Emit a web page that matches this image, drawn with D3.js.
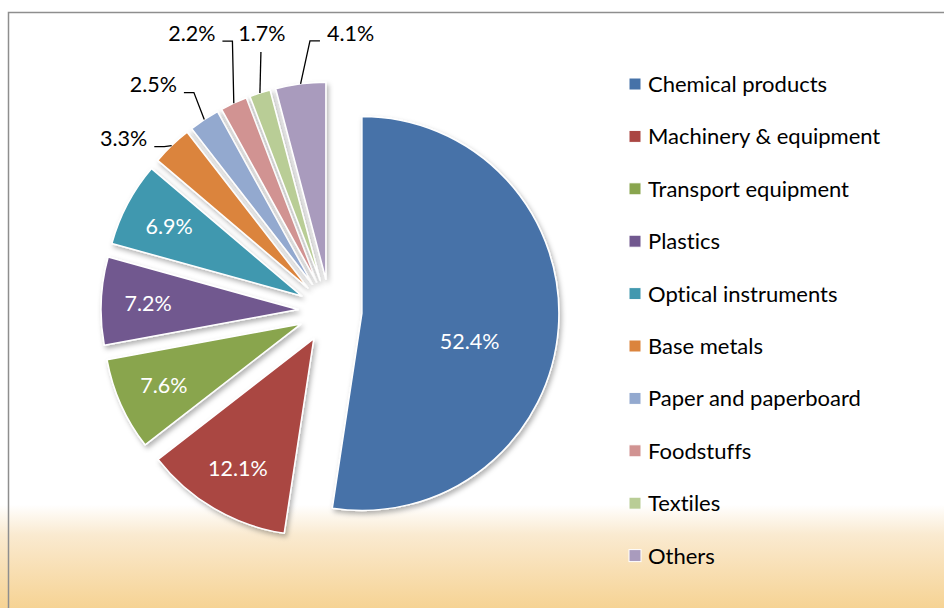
<!DOCTYPE html>
<html>
<head>
<meta charset="utf-8">
<script src="https://cdn.jsdelivr.net/npm/d3@7"></script>
<style>
  html, body { margin: 0; padding: 0; background: #fff; }
  svg { display: block; }
  text { font-family: Lato, "Open Sans", sans-serif; font-variant-ligatures: none; font-feature-settings: "liga" 0; }
</style>
</head>
<body>
<svg id="chart" width="944" height="608"></svg>
<script>
// trade shares by product group, in percent, clockwise from 12 o'clock
const categories = [
  "Chemical products", "Machinery & equipment", "Transport equipment", "Plastics",
  "Optical instruments", "Base metals", "Paper and paperboard", "Foodstuffs",
  "Textiles", "Others"
];
const shares = [52.4, 12.1, 7.6, 7.2, 6.9, 3.3, 2.5, 2.2, 1.7, 4.1];
const sliceColors = [
  "#4672a8", "#aa4643", "#89a54e", "#71588f", "#4198af",
  "#db843d", "#93a9cf", "#d19392", "#b9cd96", "#a99bbd"
];

(function () {
  "use strict";

  const width = 944;
  const height = 608;
  const cx = 330;
  const cy = 311;
  const radius = 197;
  const explode = 32;
  const svg = d3.select("#chart");

  // page background: white, fading into warm sand at the bottom
  const defs = svg.append("defs");
  const bg = defs.append("linearGradient")
    .attr("id", "bgFade")
    .attr("x1", 0).attr("y1", 0).attr("x2", 0).attr("y2", 1);
  bg.append("stop").attr("offset", "0%").attr("stop-color", "#ffffff");
  bg.append("stop").attr("offset", "83%").attr("stop-color", "#ffffff");
  bg.append("stop").attr("offset", "88%").attr("stop-color", "#faead0");
  bg.append("stop").attr("offset", "100%").attr("stop-color", "#f6d394");

  const shadow = defs.append("filter")
    .attr("id", "sliceShadow")
    .attr("x", "-20%").attr("y", "-20%").attr("width", "140%").attr("height", "140%");
  shadow.append("feDropShadow")
    .attr("dx", 2).attr("dy", 3)
    .attr("stdDeviation", 2.5)
    .attr("flood-color", "#000")
    .attr("flood-opacity", 0.3);

  svg.append("rect")
    .attr("width", width).attr("height", height)
    .attr("fill", "url(#bgFade)");

  // chart frame (left and top edges only are inside the picture)
  svg.append("path")
    .attr("d", `M8.5,${height} V12.5 H${width}`)
    .attr("fill", "none")
    .attr("stroke", "#8e8e8e")
    .attr("stroke-width", 1.5);

  const color = d3.scaleOrdinal().domain(categories).range(sliceColors);
  const pie = d3.pie().sort(null).value((d) => d.value);
  const arcs = pie(categories.map((name, i) => ({ name, value: shares[i] })));
  const arc = d3.arc().innerRadius(0).outerRadius(radius);

  const unit = (a) => [Math.sin(a), -Math.cos(a)];
  const mid = (d) => (d.startAngle + d.endAngle) / 2;
  const fmt = (v) => v.toFixed(1) + "%";

  const g = svg.append("g").attr("transform", `translate(${cx},${cy})`);

  g.selectAll("path.slice")
    .data(arcs)
    .join("path")
    .attr("class", "slice")
    .attr("transform", (d) => {
      const [ux, uy] = unit(mid(d));
      return `translate(${ux * explode},${uy * explode})`;
    })
    .attr("d", arc)
    .attr("fill", (d) => color(d.data.name))
    .attr("stroke", "#ffffff")
    .attr("stroke-width", 1.5)
    .attr("stroke-linejoin", "round")
    .style("filter", "url(#sliceShadow)");

  // labels: white inside the larger slices, black with leaders outside the small ones
  const inside = arcs.filter((d) => d.data.value >= 5);
  const outside = arcs.filter((d) => d.data.value < 5);

  g.selectAll("text.inLabel")
    .data(inside)
    .join("text")
    .attr("class", "inLabel")
    .attr("transform", (d) => {
      // the half-pie slice gets its label nearer the apex, turned a little down
      const big = d.data.value > 50;
      const a = mid(d) + (big ? (8 * Math.PI) / 180 : 0);
      const r = explode + (big ? 111 : 150);
      const [ux, uy] = unit(a);
      return `translate(${ux * r},${uy * r})`;
    })
    .attr("text-anchor", "middle")
    .attr("dy", "0.36em")
    .attr("fill", "#ffffff")
    .attr("font-size", 21.5)
    .text((d) => fmt(d.data.value));

  // hand-placed label offsets from each slice's rim point (Excel moved these apart)
  const labelNudge = {
    "Base metals": [-48, -7],
    "Paper and paperboard": [-51, -35],
    "Foodstuffs": [-42, -70],
    "Textiles": [2, -60],
    "Others": [50, -51]
  };

  outside.forEach((d) => {
    const [ux, uy] = unit(mid(d));
    const rim = [ux * (explode + radius), uy * (explode + radius)];
    const [nx, ny] = labelNudge[d.data.name];
    const lx = rim[0] + nx;
    const ly = rim[1] + ny;

    const t = g.append("text")
      .attr("x", lx).attr("y", ly)
      .attr("text-anchor", "middle")
      .attr("dy", "0.36em")
      .attr("fill", "#000")
      .attr("font-size", 21.5)
      .text(fmt(d.data.value));
    const half = t.node().getComputedTextLength() / 2;

    let pts;
    if (Math.abs(nx) < 15) {
      pts = [[lx - 1, ly + 19], rim];
    } else {
      const s = nx < 0 ? 1 : -1;
      const x0 = lx + s * (half + 7);
      const y0 = ly + 8;
      pts = [[x0, y0], [x0 + s * 10, y0], rim];
    }
    g.append("path")
      .attr("d", d3.line()(pts))
      .attr("fill", "none")
      .attr("stroke", "#000")
      .attr("stroke-width", 1.3);
  });

  // legend
  const legend = svg.append("g").attr("transform", "translate(629,84)");
  const row = legend.selectAll("g")
    .data(categories)
    .join("g")
    .attr("transform", (d, i) => `translate(0,${i * 52.4})`);
  row.append("rect")
    .attr("x", 0).attr("y", -6)
    .attr("width", 12).attr("height", 12)
    .attr("fill", (d) => color(d))
    .attr("stroke", "#ffffff")
    .attr("stroke-width", 1);
  row.append("text")
    .attr("x", 19)
    .attr("dy", "0.36em")
    .attr("font-size", 22)
    .attr("fill", "#000")
    .text((d) => d);
})();
</script>
</body>
</html>
